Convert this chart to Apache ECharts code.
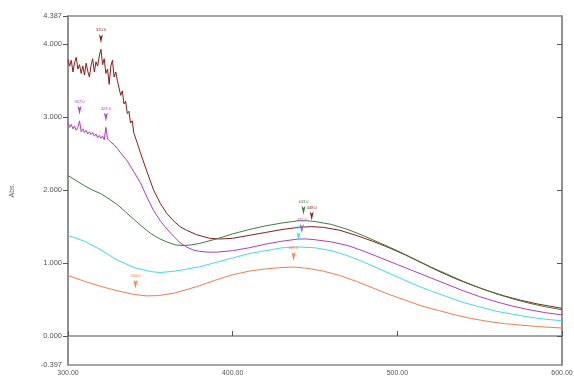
<!DOCTYPE html>
<html><head><meta charset="utf-8">
<script src="https://cdn.jsdelivr.net/npm/echarts@6/dist/echarts.min.js"></script>
<style>html,body{margin:0;padding:0;background:#fff}#c{width:574px;height:381px}</style>
</head><body><div id="c"></div>
<script>
// ---- data (wavelength nm, absorbance) ----
const brownNm = [300,301,302,303,304,305,306,307,308,309,310,311,312,313,314,315,316,317,318,319,320,321,322,323,324,325,326,327,328,329,330,331,332,333,334,335,336,337,338,339,340,342,344,348,352,356,360,364,368,372,378,386,392,400,410,420,430,440,448,455,465,475,485,495,505,515,525,535,545,555,565,575,585,600];
const brownAbs = [3.79,3.70,3.78,3.62,3.75,3.82,3.66,3.72,3.60,3.70,3.58,3.74,3.63,3.55,3.71,3.80,3.62,3.76,3.70,3.84,3.93,3.72,3.80,3.60,3.66,3.45,3.70,3.78,3.55,3.62,3.50,3.40,3.30,3.36,3.18,3.22,3.05,3.08,2.92,2.95,2.78,2.65,2.51,2.25,2.00,1.82,1.68,1.58,1.50,1.45,1.39,1.34,1.33,1.34,1.38,1.42,1.46,1.49,1.50,1.49,1.45,1.38,1.30,1.21,1.11,1.00,0.89,0.79,0.70,0.62,0.55,0.49,0.44,0.38];

const purpleNm = [300,301,302,303,304,305,306,307,308,309,310,311,312,313,314,315,316,317,318,319,320,321,322,323,324,325,326,328,330,332,336,340,344,348,352,356,360,364,368,372,376,380,385,390,400,410,420,430,440,445,450,460,470,480,490,500,510,520,530,540,550,560,570,580,590,600];
const purpleAbs = [2.92,2.86,2.90,2.84,2.88,2.82,2.86,2.95,2.80,2.84,2.79,2.82,2.77,2.80,2.76,2.79,2.74,2.77,2.72,2.75,2.71,2.74,2.69,2.86,2.70,2.68,2.66,2.62,2.57,2.51,2.40,2.25,2.10,1.90,1.72,1.58,1.47,1.37,1.28,1.22,1.18,1.16,1.15,1.15,1.17,1.21,1.26,1.30,1.33,1.33,1.32,1.29,1.24,1.16,1.07,0.98,0.89,0.80,0.71,0.62,0.54,0.47,0.41,0.36,0.32,0.29];

const greenNm = [300,305,310,315,320,325,330,335,340,345,350,355,360,365,370,375,380,390,400,410,420,430,440,445,450,460,470,480,490,500,510,520,530,540,550,560,570,580,590,600];
const greenAbs = [2.20,2.13,2.06,2.00,1.95,1.88,1.80,1.70,1.60,1.50,1.41,1.34,1.29,1.25,1.24,1.25,1.27,1.33,1.40,1.46,1.51,1.55,1.58,1.58,1.57,1.53,1.46,1.37,1.27,1.17,1.06,0.95,0.85,0.75,0.66,0.58,0.51,0.45,0.40,0.36];

const cyanNm = [300,310,320,330,340,350,356,365,380,390,400,410,420,430,440,450,460,470,480,490,500,510,520,530,540,550,560,570,580,590,600];
const cyanAbs = [1.38,1.30,1.18,1.04,0.94,0.885,0.87,0.89,0.95,1.01,1.07,1.13,1.17,1.21,1.22,1.21,1.17,1.10,1.01,0.91,0.81,0.71,0.62,0.54,0.46,0.40,0.34,0.30,0.26,0.23,0.21];

const orangeNm = [300,310,320,330,340,348,355,365,380,390,400,410,420,430,437,445,455,465,475,485,495,505,515,525,535,545,555,565,575,585,600];
const orangeAbs = [0.83,0.75,0.68,0.62,0.57,0.55,0.555,0.59,0.69,0.77,0.84,0.89,0.92,0.94,0.945,0.93,0.89,0.83,0.75,0.66,0.57,0.49,0.41,0.35,0.29,0.24,0.20,0.17,0.15,0.13,0.11];

// peak picks
const brownPeaks = [[320,3.93],[448,1.50]];
const purplePeaks = [[307,2.95],[323,2.86],[442,1.33]];
const greenPeaks = [[443,1.58]];
const cyanPeaks = [[440,1.22]];
const orangePeaks = [[437,0.945],[341,0.565]];

const yLabelValues = [-0.397,0,1,2,3,4,4.387];
const yTickValues = [0,1,2,3,4,4.387];

const zip = (a,b)=>a.map((v,i)=>[v,b[i]]);
function mk(name,color,nm,abs,peaks){
  return {
    name, type:'line', data: zip(nm,abs), showSymbol:false, smooth:false,
    lineStyle:{color, width:1}, itemStyle:{color}, silent:true, animation:false,
    markPoint:{
      silent:true, animation:false,
      symbol:'arrow', symbolRotate:180, symbolSize:[3,9], symbolOffset:[0,-6],
      itemStyle:{color},
      label:{show:true, position:'top', distance:2, fontSize:4, color, formatter:p=>p.data.coord[0].toFixed(1)},
      data: peaks.map(p=>({coord:p}))
    }
  };
}

const chart = echarts.init(document.getElementById('c'), null, {renderer:'canvas'});
chart.setOption({
  animation:false,
  backgroundColor:'#fff',
  grid:{left:68, right:12, top:16, bottom:16, outerBoundsMode:'none', containLabel:false, show:true, borderColor:'#8a8a8a', borderWidth:1.5},
  xAxis:{
    type:'value', min:300, max:600, interval:100,
    name:'nm', nameLocation:'middle', nameGap:14,
    nameTextStyle:{fontSize:7, color:'#666', fontFamily:'Liberation Sans'},
    axisLine:{show:true, lineStyle:{color:'#8a8a8a', width:1.5}},
    axisTick:{show:true, inside:true, length:5, lineStyle:{color:'#555'}},
    axisLabel:{fontSize:7, color:'#555', margin:5, fontFamily:'Liberation Sans', formatter:v=>v.toFixed(2)},
    splitLine:{show:false}
  },
  yAxis:[{
    type:'value', min:-0.397, max:4.387,
    name:'Abs.', nameLocation:'middle', nameGap:52, nameRotate:90,
    nameTextStyle:{fontSize:7, color:'#666', fontFamily:'Liberation Sans'},
    axisLine:{show:true, lineStyle:{color:'#8a8a8a', width:1.5}},
    axisTick:{show:true, length:5, customValues:yTickValues, lineStyle:{color:'#555'}},
    axisLabel:{fontSize:7.5, color:'#555', margin:6, fontFamily:'Liberation Sans', customValues:yLabelValues, formatter:v=>v.toFixed(3)},
    splitLine:{show:false}
  },{
    type:'value', min:-0.397, max:4.387, position:'right',
    axisLine:{show:true, lineStyle:{color:'#8a8a8a', width:1.5}},
    axisTick:{show:true, inside:true, length:5, customValues:[0,1,2,3,4], lineStyle:{color:'#555'}},
    axisLabel:{show:false}, splitLine:{show:false}
  }],
  series:[
    mk('brown','#8b1c1c',brownNm,brownAbs,brownPeaks),
    mk('purple','#b03cc8',purpleNm,purpleAbs,purplePeaks),
    mk('green','#3d7f3d',greenNm,greenAbs,greenPeaks),
    mk('cyan','#36e2f0',cyanNm,cyanAbs,cyanPeaks),
    mk('orange','#ff7a4a',orangeNm,orangeAbs,orangePeaks)
  ]
});
</script></body></html>
